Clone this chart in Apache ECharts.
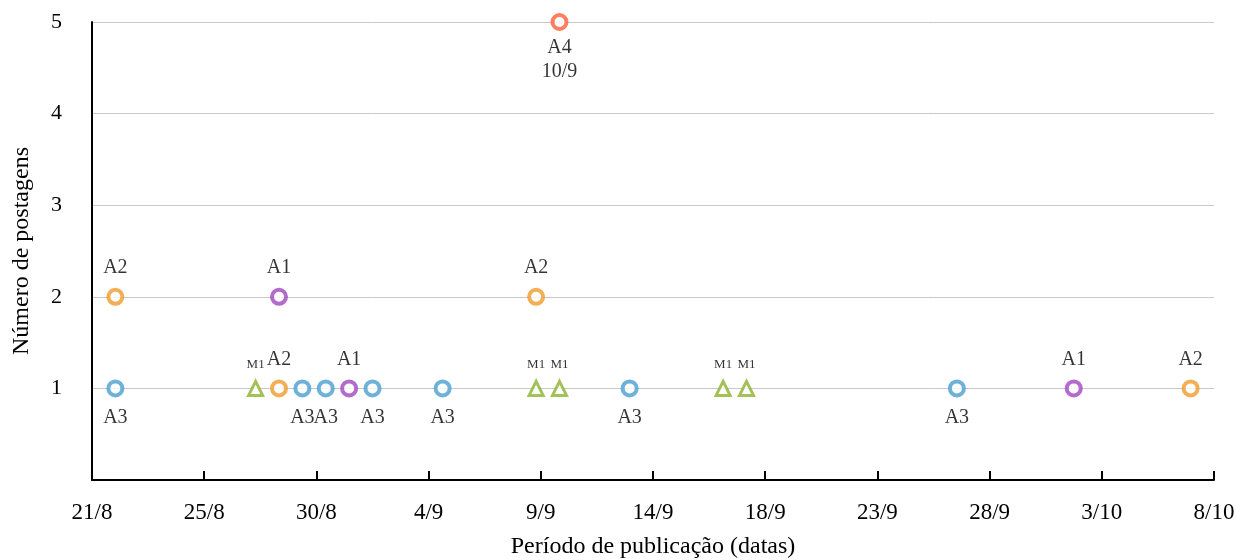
<!DOCTYPE html>
<html>
<head>
<meta charset="utf-8">
<script src="https://cdn.jsdelivr.net/npm/echarts@6/dist/echarts.min.js"></script>
<style>
  html, body { margin: 0; padding: 0; background: #fff; }
  #chart { width: 1237px; height: 560px; }
</style>
</head>
<body>
<div id="chart"></div>
<script>
// dias contados a partir de 21/8 (eixo x em dias)
const xTickLabels = ['21/8', '25/8', '30/8', '4/9', '9/9', '14/9', '18/9', '23/9', '28/9', '3/10', '8/10'];
const xStep = 4.8;

const a1Days = [8, 11, 42];
const a1Posts = [2, 1, 1];
const a2Days = [1, 8, 19, 47];
const a2Posts = [2, 1, 2, 1];
const a3Days = [1, 9, 10, 12, 15, 23, 37];
const a3Posts = [1, 1, 1, 1, 1, 1, 1];
const a4Days = [20];
const a4Posts = [5];
const a4Labels = ['A4\n10/9'];
const m1Days = [7, 19, 20, 27, 28];
const m1Posts = [1, 1, 1, 1, 1];

const font = 'Liberation Serif, Times New Roman, serif';

function pts(days, posts) {
  return days.map((d, i) => [d, posts[i]]);
}

function circleSeries(name, days, posts, color, labelPos, labels, dist) {
  return {
    name: name,
    type: 'scatter',
    data: pts(days, posts),
    symbol: 'circle',
    symbolSize: 14,
    itemStyle: { color: '#fff', borderColor: color, borderWidth: 4 },
    label: {
      show: true,
      position: labelPos,
      distance: dist || 8,
      formatter: labels ? (p => labels[p.dataIndex]) : name,
      color: '#000',
      fontFamily: font,
      fontSize: 20,
      lineHeight: 24
    },
    z: 3
  };
}

const chart = echarts.init(document.getElementById('chart'));
const option = {
  animation: false,
  grid: { left: 92, right: 23, top: 22, bottom: 80, outerBoundsMode: 'none', containLabel: false },
  xAxis: {
    type: 'value',
    min: 0,
    max: 48,
    interval: xStep,
    name: 'Período de publicação (datas)',
    nameLocation: 'middle',
    nameGap: 55,
    nameTextStyle: { color: '#000', fontFamily: font, fontSize: 24 },
    axisLine: { lineStyle: { color: '#000', width: 2 } },
    axisTick: { show: true, inside: true, length: 9, lineStyle: { color: '#000', width: 2 } },
    axisLabel: {
      color: '#000',
      fontFamily: font,
      fontSize: 23,
      margin: 21,
      formatter: v => xTickLabels[Math.round(v / xStep)]
    },
    splitLine: { show: false }
  },
  yAxis: {
    type: 'value',
    min: 0,
    max: 5,
    interval: 1,
    name: 'Número de postagens',
    nameLocation: 'middle',
    nameGap: 58,
    nameTextStyle: { color: '#000', fontFamily: font, fontSize: 24 },
    axisLine: { show: true, lineStyle: { color: '#000', width: 2 } },
    axisTick: { show: false },
    axisLabel: {
      color: '#000',
      fontFamily: font,
      fontSize: 22,
      margin: 30,
      formatter: v => (v === 0 ? '' : String(v))
    },
    splitLine: { show: true, lineStyle: { color: '#c8c8c8', width: 1 } }
  },
  series: [
    circleSeries('A3', a3Days, a3Posts, '#4a9fd0', 'bottom'),
    circleSeries('A2', a2Days, a2Posts, '#f09b2b', 'top'),
    circleSeries('A1', a1Days, a1Posts, '#a046bf', 'top'),
    circleSeries('A4', a4Days, a4Posts, '#ff5f38', 'bottom', a4Labels, 5),
    {
      name: 'M1',
      type: 'scatter',
      data: pts(m1Days, m1Posts),
      symbol: 'triangle',
      symbolSize: 14,
      itemStyle: { color: '#fff', borderColor: '#8bb32e', borderWidth: 3 },
      label: {
        show: true,
        position: 'top',
        distance: 9,
        formatter: 'M1',
        color: '#000',
        fontFamily: font,
        fontSize: 13
      },
      z: 3
    }
  ]
};
chart.setOption(option);
window.onresize = chart.resize;
</script>
</body>
</html>
